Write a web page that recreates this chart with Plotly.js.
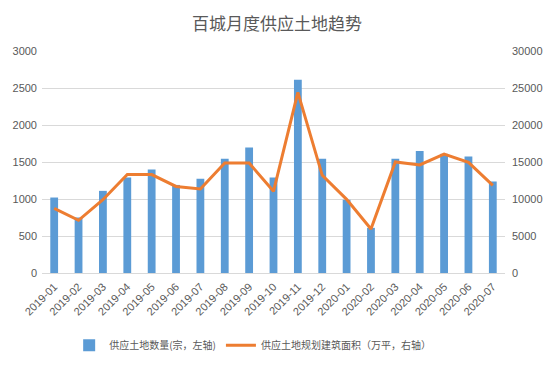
<!DOCTYPE html>
<html>
<head>
<meta charset="utf-8">
<script src="https://cdn.plot.ly/plotly-3.0.1.min.js"></script>
<style>html,body{margin:0;padding:0;background:#fff;}#chart{width:554px;height:366px;}</style>
</head>
<body>
<div id="chart"></div>
<script>
const months = ["2019-01","2019-02","2019-03","2019-04","2019-05","2019-06","2019-07","2019-08","2019-09","2019-10","2019-11","2019-12","2020-01","2020-02","2020-03","2020-04","2020-05","2020-06","2020-07"];
const landCount = [1020,750,1110,1290,1400,1190,1275,1545,1695,1290,2610,1545,990,610,1545,1650,1610,1575,1235];
const floorArea = [8740,7120,9900,13300,13300,11700,11350,14860,14860,11040,24410,13200,9950,5950,15000,14600,16080,14950,11850];
const seriesNames = ["供应土地数量(宗，左轴)","供应土地规划建筑面积（万平，右轴）"];
const titleText = "百城月度供应土地趋势";

const grey = "#595959";
const cjk = "'Noto Sans CJK SC', 'Liberation Sans', sans-serif";
const latin = "'Liberation Sans', Arial, sans-serif";

const data = [
  {type:"bar", x:months, y:landCount, name:seriesNames[0], marker:{color:"#5B9BD5"}, yaxis:"y"},
  {type:"scatter", mode:"lines", x:months, y:floorArea, name:seriesNames[1], line:{color:"#ED7D31", width:3}, yaxis:"y2"}
];

const layout = {
  width:554, height:366,
  margin:{l:42, r:49, t:51, b:93, autoexpand:false},
  paper_bgcolor:"#fff", plot_bgcolor:"#fff",
  title:{text:titleText, x:0.5, xanchor:"center", y:0.935, yanchor:"middle", font:{family:cjk, size:17, color:grey}},
  bargap:0.68,
  showlegend:true,
  legend:{orientation:"h", x:0.455, xanchor:"center", y:-0.325, yanchor:"middle", font:{family:cjk, size:10, color:grey}, traceorder:"normal"},
  xaxis:{type:"category", automargin:false, tickangle:-45, tickfont:{family:latin, size:11, color:grey}, showgrid:false, showline:true, linecolor:"#d9d9d9", linewidth:1, ticks:"", zeroline:false, ticklabelstandoff:2},
  yaxis:{range:[0,3000], dtick:500, automargin:false, tickfont:{family:latin, size:11, color:grey}, gridcolor:"#d9d9d9", showline:false, zeroline:false, ticks:"", ticklabelstandoff:4},
  yaxis2:{range:[0,30000], dtick:5000, tickformat:"d", automargin:false, overlaying:"y", side:"right", tickfont:{family:latin, size:11, color:grey}, showgrid:false, zeroline:false, showline:false, ticklabelstandoff:6}
};

Plotly.newPlot("chart", data, layout, {displayModeBar:false, staticPlot:true});
</script>
</body>
</html>
